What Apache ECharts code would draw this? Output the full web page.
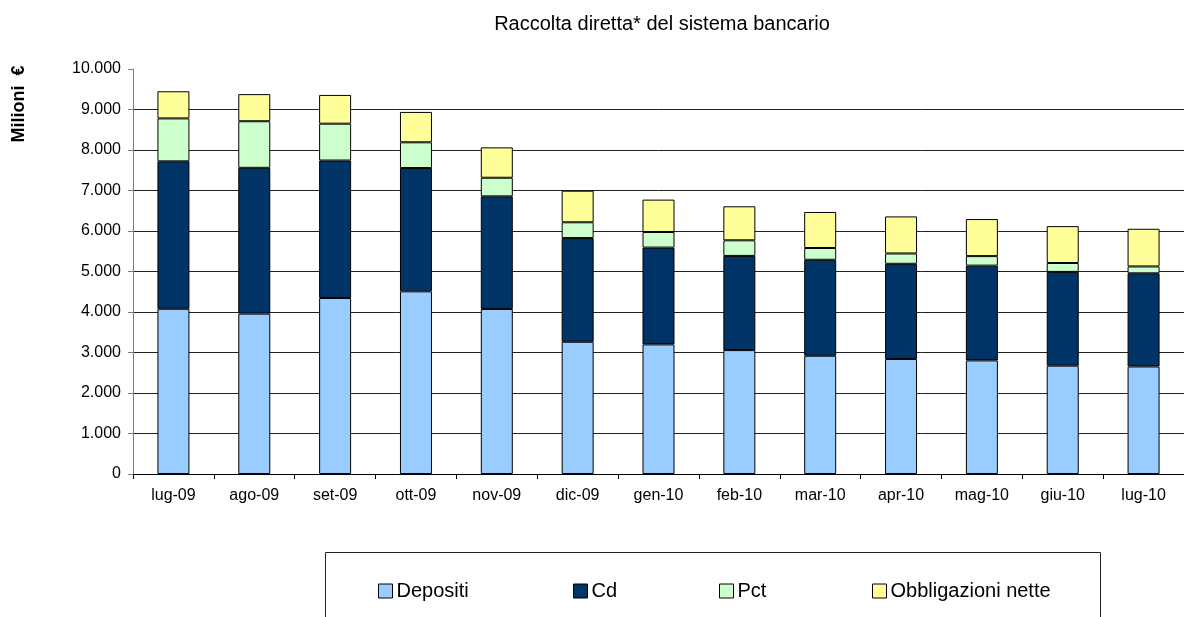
<!DOCTYPE html>
<html>
<head>
<meta charset="utf-8">
<script src="https://cdn.jsdelivr.net/npm/echarts@6/dist/echarts.min.js"></script>
<style>
html,body{margin:0;padding:0;background:#fff;}
#chart{width:1184px;height:617px;}
</style>
</head>
<body>
<div id="chart"></div>
<script>
const categories = ['lug-09','ago-09','set-09','ott-09','nov-09','dic-09','gen-10','feb-10','mar-10','apr-10','mag-10','giu-10','lug-10'];
const depositi = [4080, 3960, 4345, 4510, 4075, 3265, 3200, 3060, 2920, 2840, 2805, 2675, 2655];
const cd       = [3640, 3600, 3395, 3045, 2780, 2560, 2390, 2325, 2370, 2350, 2340, 2315, 2300];
const pct      = [1060, 1150,  910,  635,  460,  390,  385,  385,  290,  255,  235,  220,  170];
const obbl     = [ 670,  670,  710,  750,  750,  780,  800,  840,  890,  915,  915,  910,  930];
const seriesNames = ['Depositi','Cd','Pct','Obbligazioni nette'];
const seriesColors = ['#99CCFF','#003366','#CCFFCC','#FFFF99'];
const titleText = 'Raccolta diretta* del sistema bancario';
const yName = 'Milioni  €';

const FONT = '"Liberation Sans", Arial, sans-serif';
const chart = echarts.init(document.getElementById('chart'));
const dataSets = [depositi, cd, pct, obbl];
const legendLeft = [378, 573, 719, 872];

// split line colours: hide the top one (10.000)
const gridColors = [];
for (let i = 0; i < 10; i++) gridColors.push('#222');
gridColors.push('rgba(0,0,0,0)');

const option = {
  animation: false,
  backgroundColor: '#ffffff',
  textStyle: { fontFamily: FONT },
  grid: { left: 133, top: 69, width: 1061, height: 405, containLabel: false },
  legend: seriesNames.map((n, i) => ({
    data: [n],
    left: legendLeft[i],
    top: 581,
    padding: 0,
    itemWidth: 14,
    itemHeight: 14,
    itemGap: 0,
    icon: 'rect',
    textStyle: { fontFamily: FONT, fontSize: 20, color: '#000', padding: [0, 0, 0, -1] },
    itemStyle: { borderColor: '#000', borderWidth: 1 }
  })),
  xAxis: {
    type: 'category',
    data: categories,
    axisLine: { lineStyle: { color: '#000', width: 1 } },
    axisTick: { show: true, length: 5, lineStyle: { color: '#000' } },
    axisLabel: { fontFamily: FONT, fontSize: 16, color: '#000', margin: 14, interval: 0 }
  },
  yAxis: {
    type: 'value',
    min: 0, max: 10000, interval: 1000,
    axisLine: { show: true, lineStyle: { color: '#808080', width: 1 } },
    axisTick: { show: true, length: 5, inside: false, lineStyle: { color: '#808080' } },
    axisLabel: {
      fontFamily: FONT, fontSize: 16, color: '#000', margin: 12,
      formatter: v => v === 0 ? '0' : String(v).replace(/\B(?=(\d{3})+(?!\d))/g, '.')
    },
    splitLine: { show: true, lineStyle: { color: gridColors, width: 1 } }
  },
  series: seriesNames.map((n, i) => ({
    name: n,
    type: 'bar',
    stack: 'tot',
    barWidth: 32,
    data: dataSets[i],
    itemStyle: { color: seriesColors[i], borderColor: '#000', borderWidth: 1 }
  })),
  graphic: [
    {
      type: 'text',
      style: { x: 662, y: 24, text: titleText, textAlign: 'center', textVerticalAlign: 'middle',
               font: '20px "Liberation Sans", Arial, sans-serif', fill: '#000' }
    },
    {
      type: 'text', x: 19, y: 104, rotation: Math.PI / 2,
      style: { x: 0, y: 0, text: yName, textAlign: 'center', textVerticalAlign: 'middle',
               font: 'bold 18px "Liberation Sans", Arial, sans-serif', fill: '#000' }
    },
    {
      type: 'rect',
      shape: { x: 325.5, y: 552.5, width: 775, height: 80 },
      style: { fill: 'none', stroke: '#222', lineWidth: 1 }
    }
  ]
};
chart.setOption(option);
</script>
</body>
</html>
